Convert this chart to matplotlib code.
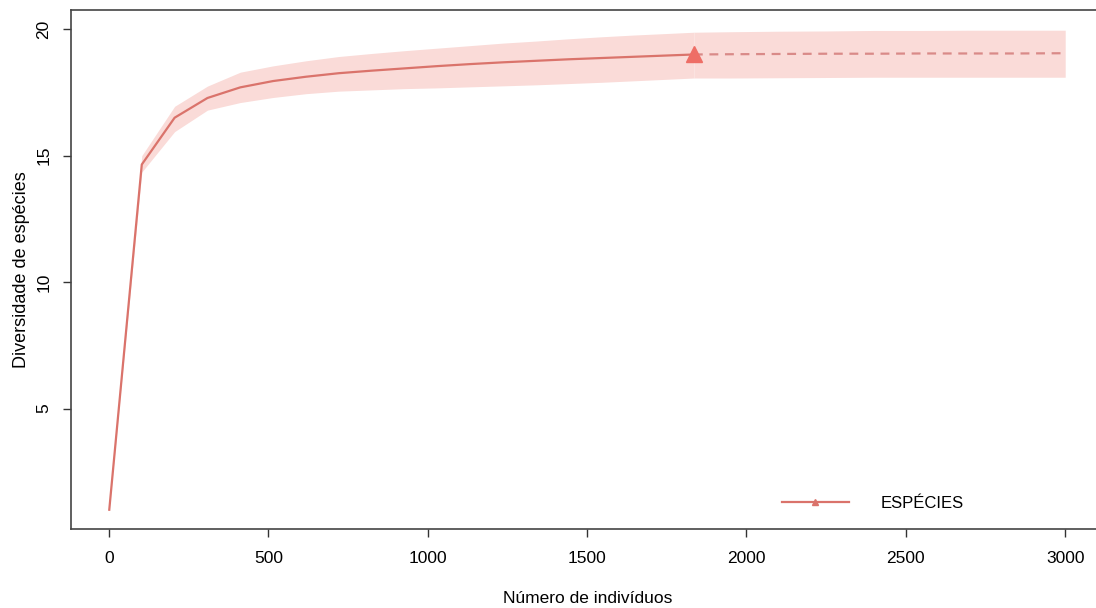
import matplotlib
matplotlib.use("Agg")
from matplotlib import pyplot as plt
from matplotlib.lines import Line2D

# rarefaction (observed part)
n_rare = [1, 103, 206, 309, 412, 515, 618, 721, 824, 927, 1030, 1133, 1236,
          1339, 1442, 1545, 1648, 1751, 1835]
s_rare = [1, 14.65, 16.5, 17.28, 17.7, 17.95, 18.12, 18.26, 18.36, 18.45, 18.54,
          18.62, 18.69, 18.75, 18.81, 18.86, 18.91, 18.96, 19.0]
lo_rare = [1, 14.35, 15.95, 16.8, 17.1, 17.3, 17.45, 17.55, 17.6, 17.65, 17.68,
           17.72, 17.76, 17.8, 17.85, 17.9, 17.96, 18.02, 18.07]
hi_rare = [1, 15.0, 16.95, 17.75, 18.3, 18.55, 18.75, 18.92, 19.04, 19.15, 19.25,
           19.35, 19.45, 19.53, 19.62, 19.7, 19.77, 19.83, 19.88]

# extrapolation
n_ext = [1835, 1950, 2100, 2250, 2400, 2550, 2700, 2850, 3000]
s_ext = [19.0, 19.01, 19.02, 19.03, 19.03, 19.04, 19.04, 19.04, 19.05]
lo_ext = [18.07, 18.07, 18.08, 18.09, 18.1, 18.1, 18.1, 18.1, 18.1]
hi_ext = [19.88, 19.9, 19.92, 19.93, 19.95, 19.95, 19.96, 19.96, 19.96]

n_obs = 1835
s_obs = 19.0

plt.rcParams['font.family'] = ['Liberation Sans Narrow', 'Liberation Sans', 'DejaVu Sans']
line_col = '#DA736B'
band_col = '#FADBD8'

fig = plt.figure(figsize=(10.96, 6.08), dpi=100)
ax = fig.add_axes([0.0648, 0.130, 0.942, 0.8536])

ax.fill_between(n_rare, lo_rare, hi_rare, color=band_col, lw=0)
ax.fill_between(n_ext, lo_ext, hi_ext, color=band_col, lw=0)
ax.plot(n_rare, s_rare, color=line_col, lw=1.6)
ax.plot(n_ext, s_ext, color='#D98A88', lw=1.6, ls=(0, (4, 3)))
ax.plot([n_obs], [s_obs], marker='^', ms=11, color='#EE6E66', ls='none')

ax.set_xlim(-119, 3120)
ax.set_ylim(0.24, 20.76)
ax.set_xticks([0, 500, 1000, 1500, 2000, 2500, 3000])
ax.set_yticks([5, 10, 15, 20], labels=['5', '10', '15', '20'], rotation=90,
              va='center', family=['Liberation Sans', 'DejaVu Sans'])
ax.tick_params(axis='both', length=6, width=1, color='#333333', labelsize=12.5)
ax.tick_params(axis='x', pad=10)
ax.tick_params(axis='y', pad=8)
for sp in ax.spines.values():
    sp.set_color('#444444')
    sp.set_linewidth(1.2)

ax.set_xlabel('Número de indivíduos', fontsize=12.5, labelpad=18)
ax.set_ylabel('Diversidade de espécies', family=['Liberation Sans', 'DejaVu Sans'],
              fontsize=13, labelpad=5)

h = Line2D([], [], color=line_col, lw=1.6, marker='^', ms=5)
ax.legend([h], ['ESPÉCIES'], loc='lower right', frameon=False, handlelength=4.0,
          handletextpad=1.9, prop={'size': 12},
          bbox_to_anchor=(0.879, 0.006))

fig.savefig('out.png', dpi=100)
